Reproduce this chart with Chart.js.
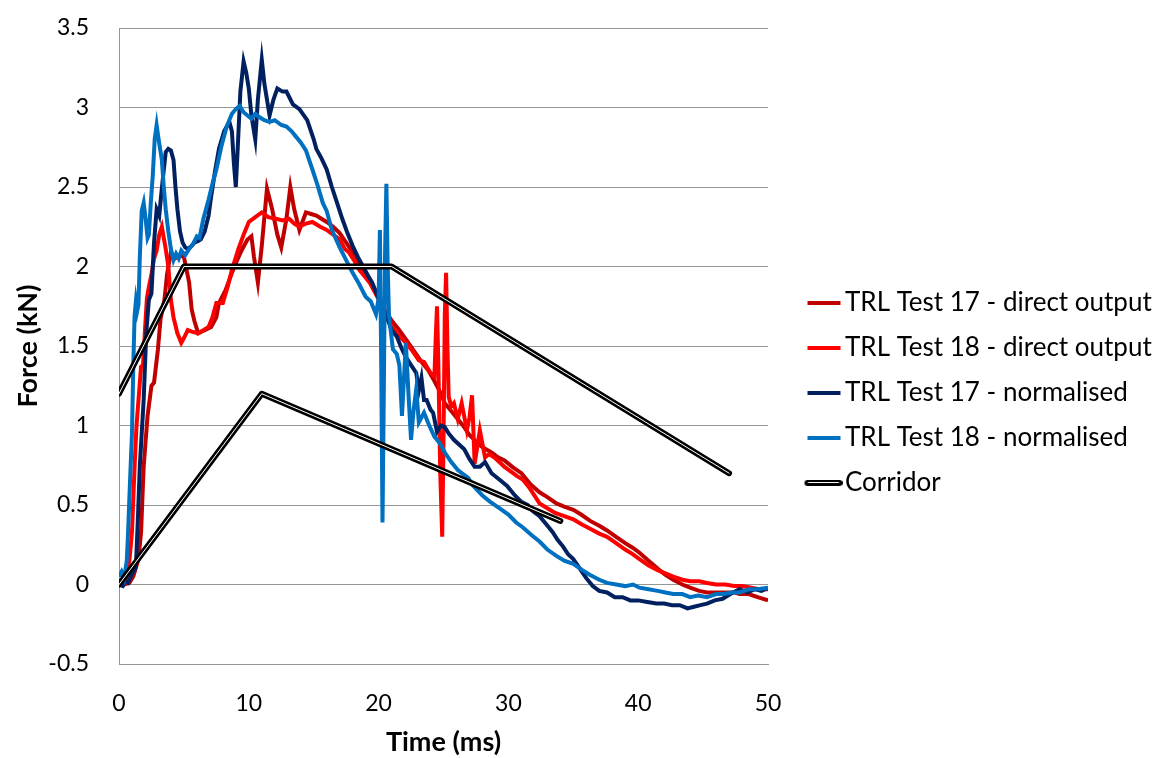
<!DOCTYPE html>
<html>
<head>
<meta charset="utf-8">
<script src="https://cdn.jsdelivr.net/npm/chart.js@4/dist/chart.umd.min.js"></script>
<style>
  html, body { margin: 0; padding: 0; background: #fff; }
  #wrap { width: 1161px; height: 758px; }
</style>
</head>
<body>
<div id="wrap"><canvas id="myChart" width="1161" height="758"></canvas></div>
<script>
// axis ticks
const xTicks = [0, 10, 20, 30, 40, 50];
const yTicks = [-0.5, 0, 0.5, 1, 1.5, 2, 2.5, 3, 3.5];

// TRL Test 17 - direct output
const t17dTime = [0, 0.4, 0.8, 1.1, 1.5, 1.7, 1.9, 2.2, 2.5, 2.7, 3.0, 3.2, 3.5, 3.7, 4.0, 4.3, 4.7, 5.0, 5.2, 5.4, 5.6, 5.8, 6.1, 6.6, 7.1, 7.5, 7.7, 8.2, 8.7, 9.1, 9.5, 9.9, 10.2, 10.4, 10.7, 11.0, 11.4, 11.8, 12.2, 12.5, 12.9, 13.2, 13.5, 13.9, 14.4, 14.8, 15.2, 15.6, 16.0, 16.5, 17.0, 17.5, 18.0, 18.5, 19.1, 19.8, 20.4, 21.0, 21.6, 22.2, 22.8, 23.3, 23.8, 24.3, 24.8, 25.1, 25.5, 26.0, 26.5, 27.0, 27.5, 27.9, 28.3, 28.7, 29.2, 29.7, 30.3, 31.0, 31.7, 32.4, 33.0, 33.7, 34.3, 35.0, 35.6, 36.3, 37.0, 37.6, 38.3, 39.0, 39.6, 40.1, 40.8, 41.5, 42.1, 42.7, 43.4, 44.0, 44.7, 45.3, 46.0, 46.7, 47.4, 47.8, 48.5, 49.2, 50];
const t17dForce = [0, 0, 0.01, 0.05, 0.16, 0.33, 0.74, 1.06, 1.25, 1.27, 1.48, 1.67, 1.79, 1.95, 2.09, 2.05, 2.07, 2.06, 1.98, 1.9, 1.73, 1.66, 1.58, 1.6, 1.62, 1.68, 1.77, 1.85, 1.96, 2.04, 2.11, 2.17, 2.19, 2.06, 1.9, 2.13, 2.49, 2.36, 2.2, 2.12, 2.3, 2.5, 2.36, 2.23, 2.34, 2.33, 2.32, 2.3, 2.28, 2.25, 2.21, 2.15, 2.09, 2.02, 1.94, 1.84, 1.74, 1.66, 1.6, 1.53, 1.46, 1.4, 1.35, 1.28, 1.2, 1.14, 1.1, 1.05, 1.0, 0.94, 0.9, 0.87, 0.85, 0.83, 0.8, 0.78, 0.74, 0.7, 0.63, 0.58, 0.55, 0.51, 0.49, 0.47, 0.44, 0.4, 0.37, 0.34, 0.3, 0.26, 0.23, 0.2, 0.15, 0.1, 0.06, 0.03, 0.0, -0.02, -0.04, -0.05, -0.05, -0.05, -0.05, -0.06, -0.06, -0.08, -0.1];

// TRL Test 18 - direct output
const t18dTime = [0, 0.3, 0.5, 0.8, 1.0, 1.2, 1.35, 1.5, 1.7, 1.85, 2.0, 2.15, 2.3, 2.5, 2.7, 2.9, 3.1, 3.3, 3.45, 3.6, 3.8, 4.0, 4.2, 4.5, 4.8, 5.0, 5.3, 5.6, 6.1, 6.5, 6.9, 7.2, 7.5, 8.0, 8.4, 8.7, 9.2, 9.6, 10.0, 10.5, 11.0, 11.5, 12.1, 12.6, 13.1, 13.5, 13.9, 14.4, 14.9, 15.5, 16.0, 16.5, 17.0, 17.4, 17.7, 18.1, 18.5, 18.9, 19.3, 19.7, 20.2, 20.8, 21.4, 22.1, 22.6, 23.1, 23.5, 24.0, 24.3, 24.4, 24.5, 24.6, 24.75, 24.9, 25.0, 25.1, 25.2, 25.3, 25.4, 25.6, 25.8, 26.1, 26.4, 26.8, 27.0, 27.2, 27.4, 27.8, 28.2, 28.5, 28.9, 29.3, 29.7, 30.2, 30.7, 31.1, 31.6, 32.0, 32.4, 33.0, 33.6, 34.3, 35.0, 35.6, 36.3, 37.0, 37.6, 38.3, 39.0, 39.6, 40.1, 40.8, 41.5, 42.1, 42.7, 43.4, 44.0, 44.7, 45.3, 46.0, 46.7, 47.4, 48.0, 48.7, 49.3, 50];
const t18dForce = [0, 0, 0.01, 0.15, 0.33, 0.74, 1.0, 1.16, 1.37, 1.38, 1.6, 1.8, 1.87, 1.95, 2.05, 2.1, 2.2, 2.25, 2.18, 2.11, 2.0, 1.79, 1.68, 1.58, 1.52, 1.55, 1.6, 1.59, 1.58, 1.6, 1.62, 1.68, 1.77, 1.77, 1.88, 1.98, 2.11, 2.2, 2.28, 2.31, 2.34, 2.31, 2.3, 2.29, 2.3, 2.27, 2.25, 2.27, 2.28, 2.25, 2.23, 2.2, 2.17, 2.11, 2.09, 2.04, 1.98, 1.94, 1.9, 1.84, 1.76, 1.65, 1.58, 1.52, 1.47, 1.41, 1.4, 1.33, 1.31, 1.55, 1.75, 1.4, 0.7, 0.3, 0.9, 1.7, 1.96, 1.5, 1.18, 1.12, 1.14, 1.04, 1.14, 0.97, 1.05, 1.19, 0.76, 0.97, 0.8, 0.82, 0.8, 0.77, 0.74, 0.71, 0.68, 0.66, 0.61, 0.56, 0.51, 0.48, 0.45, 0.43, 0.41, 0.38, 0.35, 0.32, 0.3, 0.26, 0.22, 0.19, 0.16, 0.12, 0.09, 0.07, 0.05, 0.03, 0.02, 0.02, 0.01, 0.0, 0.0, -0.01, -0.01, -0.02, -0.03, -0.03];

// TRL Test 17 - normalised
const t17nTime = [0, 0.3, 0.5, 0.7, 0.9, 1.1, 1.3, 1.45, 1.6, 1.75, 1.9, 2.1, 2.3, 2.5, 2.7, 2.9, 3.1, 3.25, 3.4, 3.6, 3.8, 4.0, 4.2, 4.35, 4.5, 4.7, 4.9, 5.1, 5.3, 5.6, 5.8, 6.1, 6.3, 6.6, 6.9, 7.1, 7.4, 7.7, 8.1, 8.5, 8.7, 8.85, 9.0, 9.15, 9.35, 9.6, 9.8, 10.0, 10.2, 10.5, 10.7, 11.0, 11.2, 11.6, 11.9, 12.2, 12.6, 12.9, 13.4, 13.9, 14.5, 15.0, 15.2, 15.6, 16.0, 16.4, 16.8, 17.2, 17.6, 18.0, 18.4, 18.8, 19.2, 19.5, 19.8, 20.2, 20.6, 21.0, 21.4, 21.8, 22.1, 22.5, 22.9, 23.1, 23.3, 23.5, 23.7, 24.0, 24.2, 24.5, 24.8, 25.1, 25.4, 25.8, 26.2, 26.6, 27.0, 27.4, 27.8, 28.2, 28.7, 29.3, 29.9, 30.5, 31.0, 31.5, 31.9, 32.4, 32.9, 33.4, 33.8, 34.2, 34.6, 35.0, 35.5, 36.0, 36.5, 37.0, 37.6, 38.2, 38.8, 39.4, 40.0, 40.7, 41.4, 42.0, 42.6, 43.2, 43.8, 44.3, 44.8, 45.3, 45.9, 46.5, 47.1, 47.8, 48.4, 49.0, 49.5, 50];
const t17nForce = [0, -0.01, 0.02, 0.01, 0.05, 0.08, 0.11, 0.4, 0.74, 0.95, 1.16, 1.58, 1.79, 1.83, 2.15, 2.36, 2.32, 2.45, 2.57, 2.72, 2.74, 2.73, 2.67, 2.5, 2.36, 2.22, 2.15, 2.12, 2.11, 2.13, 2.15, 2.16, 2.17, 2.22, 2.32, 2.44, 2.6, 2.74, 2.85, 2.91, 2.85, 2.65, 2.5, 2.75, 3.1, 3.29, 3.22, 3.12, 2.95, 2.8, 3.05, 3.3, 3.15, 2.95, 3.05, 3.12, 3.1, 3.1, 3.02, 2.99, 2.92, 2.8, 2.74, 2.68, 2.61, 2.5, 2.4, 2.3, 2.21, 2.13, 2.06, 2.0, 1.94, 1.9, 1.84, 1.76, 1.69, 1.6, 1.56, 1.48, 1.43, 1.38, 1.33, 1.22, 1.3, 1.16, 1.16, 1.1, 1.08, 0.96, 1.0, 0.99, 0.95, 0.91, 0.88, 0.85, 0.79, 0.74, 0.74, 0.77, 0.7, 0.66, 0.62, 0.56, 0.52, 0.5, 0.46, 0.43, 0.38, 0.33, 0.28, 0.24, 0.19, 0.16, 0.1, 0.04, -0.01, -0.04, -0.05, -0.08, -0.08, -0.1, -0.1, -0.11, -0.12, -0.12, -0.13, -0.13, -0.15, -0.14, -0.13, -0.12, -0.1, -0.09, -0.06, -0.03, -0.05, -0.03, -0.04, -0.02];

// TRL Test 18 - normalised
const t18nTime = [0, 0.2, 0.4, 0.6, 0.7, 0.85, 1.0, 1.1, 1.2, 1.3, 1.4, 1.5, 1.6, 1.75, 1.9, 2.05, 2.2, 2.3, 2.45, 2.6, 2.75, 2.9, 3.05, 3.3, 3.45, 3.6, 3.8, 4.0, 4.2, 4.4, 4.6, 4.8, 5.1, 5.4, 5.7, 6.0, 6.2, 6.5, 6.9, 7.2, 7.5, 7.9, 8.3, 8.7, 9.0, 9.3, 9.6, 9.9, 10.2, 10.5, 10.8, 11.2, 11.6, 12.0, 12.5, 12.9, 13.3, 13.6, 14.0, 14.4, 14.9, 15.3, 15.7, 16.0, 16.4, 17.0, 17.5, 18.0, 18.5, 19.0, 19.4, 19.8, 20.0, 20.1, 20.2, 20.3, 20.4, 20.5, 20.6, 20.7, 20.8, 21.1, 21.4, 21.6, 21.8, 22.1, 22.3, 22.5, 22.7, 22.9, 23.1, 23.5, 23.9, 24.3, 24.7, 25.1, 25.6, 26.1, 26.9, 27.3, 28.0, 28.6, 29.3, 30.0, 30.6, 31.1, 31.8, 32.4, 33.0, 33.7, 34.3, 35.0, 35.7, 36.3, 37.0, 37.6, 38.3, 39.0, 39.6, 40.1, 40.8, 41.5, 42.1, 42.7, 43.4, 44.0, 44.6, 45.3, 46.0, 46.6, 47.2, 47.8, 48.5, 49.2, 50];
const t18nForce = [0.05, 0.08, 0.04, 0.15, 0.33, 0.65, 0.95, 1.37, 1.69, 1.78, 1.72, 1.76, 2.05, 2.35, 2.4, 2.3, 2.18, 2.2, 2.4, 2.57, 2.8, 2.89, 2.8, 2.67, 2.5, 2.36, 2.22, 2.11, 2.04, 2.08, 2.05, 2.1, 2.07, 2.11, 2.14, 2.19, 2.18, 2.3, 2.42, 2.52, 2.61, 2.76, 2.88, 2.96, 2.99, 3.01, 2.97, 2.95, 2.93, 2.96, 2.94, 2.92, 2.91, 2.92, 2.89, 2.88, 2.85, 2.82, 2.78, 2.73, 2.61, 2.51, 2.4, 2.35, 2.23, 2.12, 2.04, 1.96, 1.89, 1.81, 1.78, 1.7, 1.8, 2.23, 1.4, 0.39, 1.2, 2.1, 2.52, 2.0, 1.69, 1.48, 1.45, 1.38, 1.06, 1.52, 1.2, 0.91, 1.1, 1.23, 1.02, 1.08, 1.0, 0.93, 0.89, 0.83, 0.77, 0.72, 0.67, 0.62, 0.56, 0.52, 0.48, 0.44, 0.39, 0.36, 0.31, 0.27, 0.22, 0.18, 0.15, 0.13, 0.09, 0.06, 0.03, 0.01, 0.0, -0.01, 0.0, -0.02, -0.03, -0.04, -0.05, -0.06, -0.06, -0.08, -0.07, -0.08, -0.06, -0.06, -0.05, -0.05, -0.03, -0.03, -0.02];

// Corridor (upper and lower bounds)
const corrUpperTime = [0, 5, 21, 47];
const corrUpperForce = [1.2, 2.0, 2.0, 0.7];
const corrLowerTime = [0, 11, 34];
const corrLowerForce = [0, 1.2, 0.4];

function pts(ts, fs) {
  return ts.map((t, i) => ({ x: t, y: fs[i] }));
}

// little line images for the legend (blank on the left so the line sits next to the text)
function legendLine(color, corridor) {
  const c = document.createElement('canvas');
  c.width = 66; c.height = 10;
  const g = c.getContext('2d');
  if (corridor) {
    g.lineCap = 'round';
    g.strokeStyle = '#000'; g.lineWidth = 6;
    g.beginPath(); g.moveTo(31, 5); g.lineTo(63, 5); g.stroke();
    g.strokeStyle = '#fff'; g.lineWidth = 1;
    g.beginPath(); g.moveTo(32, 4.5); g.lineTo(62, 4.5); g.stroke();
  } else {
    g.strokeStyle = color; g.lineWidth = 4;
    g.beginPath(); g.moveTo(31, 5); g.lineTo(64, 5); g.stroke();
  }
  return c;
}

function series(label, ts, fs, color, order) {
  return {
    label: label,
    data: pts(ts, fs),
    borderColor: color,
    backgroundColor: color,
    borderWidth: 4,
    pointRadius: 0,
    showLine: true,
    tension: 0,
    order: order,
    pointStyle: legendLine(color, false)
  };
}

function corridor(label, ts, fs, white, order, inLegend) {
  return {
    label: label,
    data: pts(ts, fs),
    borderColor: white ? '#ffffff' : '#000000',
    backgroundColor: white ? '#ffffff' : '#000000',
    borderWidth: white ? 1 : 6,
    borderCapStyle: 'round',
    borderJoinStyle: 'round',
    pointRadius: 0,
    showLine: true,
    tension: 0,
    order: order,
    inLegend: inLegend,
    pointStyle: legendLine('#000', true)
  };
}

const gridGray = '#969696';
const font = 'Lato';
const legendWidth = 393;

// the layout caps a right-hand legend at a quarter of the width, so widen it here
const legendWidthFix = {
  id: 'legendWidthFix',
  beforeLayout(chart) {
    const lg = chart.legend;
    if (lg && !lg._widthFixed) {
      const fit = lg.fit;
      lg.fit = function () { fit.call(this); this.width = legendWidth; };
      lg._widthFixed = true;
    }
  }
};

function draw() {
  new Chart(document.getElementById('myChart').getContext('2d'), {
    type: 'scatter',
    data: {
      datasets: [
        series('TRL Test 17 - direct output', t17dTime, t17dForce, '#C00000', 9),
        series('TRL Test 18 - direct output', t18dTime, t18dForce, '#FF0000', 8),
        series('TRL Test 17 - normalised', t17nTime, t17nForce, '#002060', 7),
        series('TRL Test 18 - normalised', t18nTime, t18nForce, '#0070C0', 6),
        corridor('Corridor', corrUpperTime, corrUpperForce, false, 4, true),
        corridor('Corridor', corrLowerTime, corrLowerForce, false, 3, false),
        corridor('Corridor', corrUpperTime, corrUpperForce, true, 1, false),
        corridor('Corridor', corrLowerTime, corrLowerForce, true, 0, false)
      ]
    },
    plugins: [legendWidthFix],
    options: {
      responsive: false,
      animation: false,
      devicePixelRatio: 1,
      layout: { padding: { left: 0, top: 28, right: 0, bottom: 0 } },
      scales: {
        x: {
          type: 'linear',
          min: 0, max: 50,
          afterBuildTicks: axis => { axis.ticks = xTicks.map(v => ({ value: v })); },
          afterFit: axis => { axis.height = 94; },
          grid: { display: false, drawTicks: false },
          border: { display: true, color: gridGray, width: 1 },
          ticks: { color: '#000', padding: 26, maxRotation: 0, font: { family: font, size: 23 }, callback: v => String(v) },
          title: { display: true, text: 'Time (ms)', color: '#000', padding: { top: 4, bottom: 0 }, font: { family: font, size: 27, weight: 'bold' } }
        },
        y: {
          type: 'linear',
          min: -0.5, max: 3.5,
          afterBuildTicks: axis => { axis.ticks = yTicks.map(v => ({ value: v })); },
          afterFit: axis => { axis.width = 119; axis.paddingTop = 14; axis.paddingBottom = 14; },
          grid: { color: gridGray, lineWidth: 1, drawTicks: false },
          border: { display: true, color: gridGray, width: 1 },
          ticks: { color: '#000', padding: 30, font: { family: font, size: 23 }, callback: v => String(v) },
          title: { display: true, text: 'Force (kN)', color: '#000', padding: { top: 12, bottom: 0 }, font: { family: font, size: 27, weight: 'bold' } }
        }
      },
      plugins: {
        tooltip: { enabled: false },
        legend: {
          position: 'right',
          labels: {
            color: '#000',
            font: { family: font, size: 26 },
            usePointStyle: true,
            pointStyleWidth: 45,
            padding: 19,
            filter: (item, data) => data.datasets[item.datasetIndex].inLegend !== false,
            sort: (a, b) => a.datasetIndex - b.datasetIndex
          }
        }
      }
    }
  });
}

Promise.all([
  document.fonts.load('23px Lato'),
  document.fonts.load('26px Lato'),
  document.fonts.load('bold 27px Lato')
]).then(draw, draw);
</script>
</body>
</html>
